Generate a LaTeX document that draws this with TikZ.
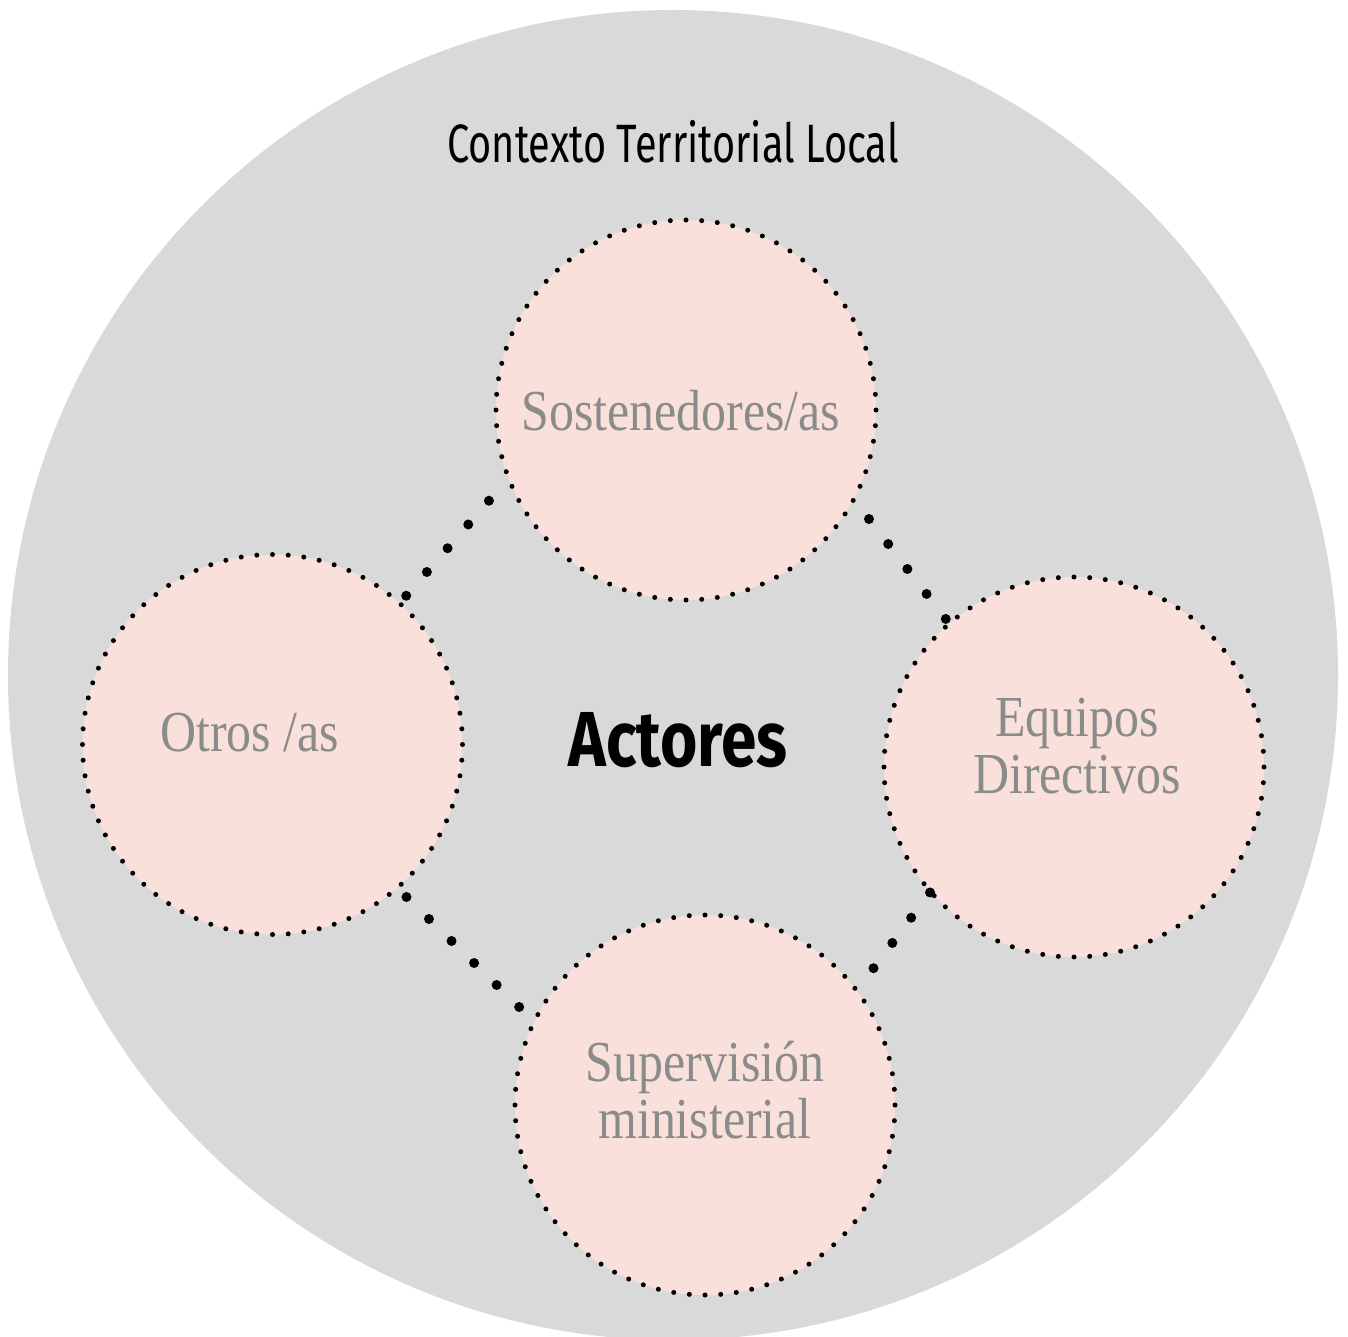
\documentclass[tikz,border=0pt]{standalone}
\usepackage{fontspec}
\setmainfont{Liberation Serif}
\newfontfamily\ctxfont[FakeStretch=0.735]{Fira Sans}
\newfontfamily\actfont[FakeStretch=0.82]{Fira Sans}
\newfontfamily\labfont[FakeStretch=0.86]{Liberation Serif}
\definecolor{bgc}{HTML}{D9D9D9}
\definecolor{pinkc}{HTML}{FAE0DB}
\definecolor{graytxt}{HTML}{8A8C8C}
\tikzset{
  actor/.style={circle, minimum size=380pt, inner sep=0pt, outer sep=0pt,
    fill=pinkc, draw=black, line width=5pt, line cap=round,
    dash pattern=on 0pt off 15.71pt},
  link/.style={draw=black, line width=10pt, line cap=round,
    dash pattern=on 0pt off 31.5pt},
  lab/.style={text=graytxt, font=\labfont\fontsize{58}{57}\selectfont,
    align=center, anchor=base, inner sep=0pt},
  ttl/.style={font=\ctxfont\fontsize{54}{60}\selectfont, anchor=base, inner sep=0pt},
  ctr/.style={font=\actfont\bfseries\fontsize{78}{80}\selectfont, anchor=base, inner sep=0pt},
}
\begin{document}
\begin{tikzpicture}[x=1pt,y=-1pt]
\useasboundingbox (0,0) rectangle (1348,1337);
\node[circle, minimum size=1330pt, inner sep=0pt, fill=bgc] (ctx) at (673,675) {};
\node[actor] (sost) at (686,410) {};
\node[actor] (otros) at (272.5,744.5) {};
\node[actor] (equip) at (1074,767) {};
\node[actor] (sup) at (705,1105) {};
\draw[link, shorten <=30pt, shorten >=9pt] (sost.201) -- (otros.48);
\draw[link, shorten <=25pt, shorten >=5pt] (sost.332.3) -- (equip.131.7);
\draw[link, shorten <=13pt, shorten >=20pt] (otros.311.1) -- (sup.154.2);
\draw[link, shorten <=1pt, shorten >=27pt] (equip.221.2) -- (sup.37.6);
\node[ttl] (ctx-t) at (673,162.7) {Contexto Territorial Local};
\node[ctr] (act-t) at (678,766) {Actores};
\node[lab] (sost-t) at (681,430) {Sostenedores/as};
\node[lab] (otros-t) at (249.5,751) {Otros /as};
\node[lab] (equip-t) at (1077,793) {Equipos\\Directivos};
\node[lab] (sup-t) at (705,1138) {Supervisión\\ministerial};
\end{tikzpicture}
\end{document}
